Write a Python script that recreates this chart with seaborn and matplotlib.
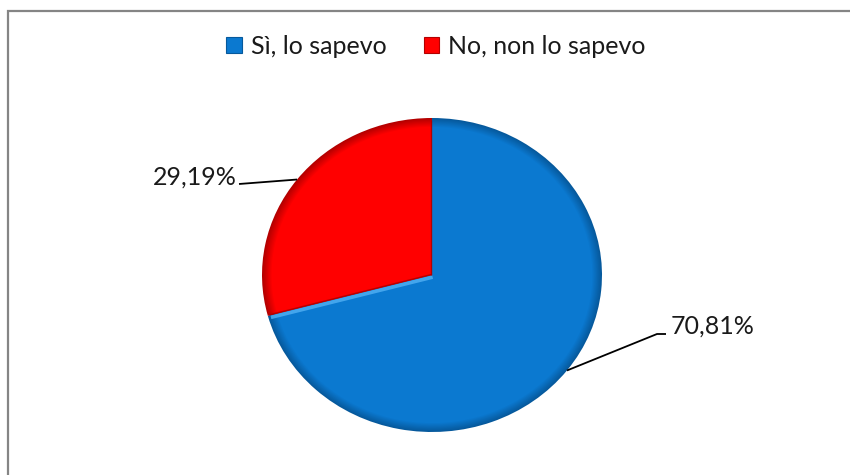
import numpy as np
import matplotlib
matplotlib.use("Agg")
import matplotlib.pyplot as plt
import seaborn as sns
from matplotlib.patches import Patch

# Survey answers
categories = ["Sì, lo sapevo", "No, non lo sapevo"]
shares = [70.81, 29.19]
value_labels = ["70,81%", "29,19%"]
main_colors = ["#0B79D0", "#FF0000"]
rim_colors = ["#06599C", "#B30000"]

sns.set_theme(style="white")
plt.rcParams["font.family"] = ["Lato", "DejaVu Sans"]

W, H = 850, 475
fig = plt.figure(figsize=(W / 100, H / 100), dpi=100)
fig.patch.set_facecolor("white")


def fx(px):
    return px / W


def fy(py):
    return 1 - py / H


# elliptical pie area (pixels)
cx, cy, rx, ry = 432, 275, 170, 157
ax = fig.add_axes([fx(cx - rx), fy(cy + ry), 2 * rx / W, 2 * ry / H])

# concentric layers give the bevelled rim
n_layers = 9
shades = [sns.blend_palette([rim, main], n_colors=n_layers)
          for rim, main in zip(rim_colors, main_colors)]
for k in range(n_layers):
    r = 1 - k * 0.007
    ax.pie(shares, colors=[s[k] for s in shades], startangle=90,
           counterclock=False, radius=r, wedgeprops=dict(linewidth=0))

# bevel highlights along the radial edges of the slices
cum = np.concatenate([[0], np.cumsum(shares)])
edge_angles = [90 - 360 * c / 100 for c in cum[:-1]]


def edge_line(theta_deg, side, color, lw, off):
    """Line parallel to a slice edge; side=+1 is the counter-clockwise side."""
    t = np.deg2rad(theta_deg)
    d = np.array([np.cos(t), np.sin(t)])
    n = np.array([-np.sin(t), np.cos(t)]) * side
    p0 = n * off
    p1 = d * 0.985 + n * off
    ax.plot([p0[0], p1[0]], [p0[1], p1[1]], color=color, lw=lw,
            solid_capstyle="butt", alpha=0.9)


# lower edge between the two slices: light blue on the blue side
edge_line(edge_angles[1], +1, "#4AAAF0", 2.6, 0.014)
edge_line(edge_angles[1], -1, "#B00000", 1.0, 0.004)
# top edge: dark red on the red side
edge_line(edge_angles[0], +1, "#B00000", 1.0, 0.004)

ax.set_xlim(-1, 1)
ax.set_ylim(-1, 1)
ax.set_aspect("auto")
ax.axis("off")

# overlay in pixel units for leader lines, labels and frame
ov = fig.add_axes([0, 0, 1, 1], facecolor="none")
ov.set_xlim(0, W)
ov.set_ylim(H, 0)
ov.axis("off")

mids = [90 - 360 * (cum[i] + shares[i] / 2) / 100 for i in range(len(shares))]

# label placement: elbow points, text anchor, alignment
label_layout = [
    dict(path=[(657, 334), (666, 334)], text=(671, 326), ha="left"),
    dict(path=[(239, 184)], text=(237, 177), ha="right"),
]
for i, lay in enumerate(label_layout):
    a = np.deg2rad(mids[i])
    px, py = cx + rx * np.cos(a), cy - ry * np.sin(a)
    xs = [px] + [p[0] for p in lay["path"]]
    ys = [py] + [p[1] for p in lay["path"]]
    ov.plot(xs, ys, color="black", lw=1.3, solid_capstyle="butt")
    ov.text(lay["text"][0], lay["text"][1], value_labels[i], ha=lay["ha"],
            va="center", fontsize=18, color="#1a1a1a")

# chart frame (left and top edges)
ov.plot([8, 8, W], [H, 11, 11], color="#858585", lw=1.6,
        solid_joinstyle="miter")

handles = [Patch(facecolor=m, edgecolor=r, linewidth=0.8, label=c)
           for c, m, r in zip(categories, main_colors, rim_colors)]
fig.legend(handles=handles, loc="center", bbox_to_anchor=(fx(436), fy(46)),
           ncol=2, frameon=False, fontsize=18, handlelength=0.62,
           handleheight=0.62, handletextpad=0.35, columnspacing=1.5,
           labelcolor="#1a1a1a")

fig.savefig("out.png", dpi=100, facecolor="white")
